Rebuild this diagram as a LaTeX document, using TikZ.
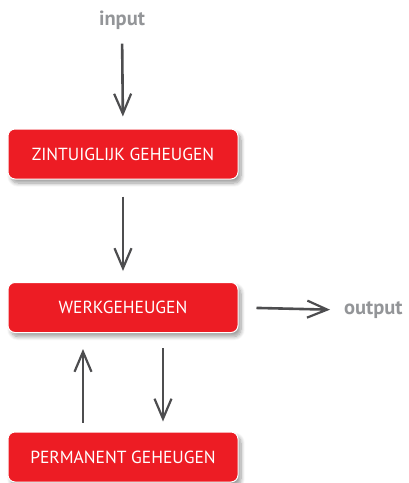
\documentclass[tikz,border=0pt]{standalone}
\usepackage{fontspec}
\setmainfont{PT Sans}
\usetikzlibrary{arrows.meta,shadows.blur}
\definecolor{geheugenrood}{HTML}{ED1C24}
\definecolor{pijlgrijs}{HTML}{4D4D4F}
\definecolor{tekstgrijs}{HTML}{939598}

\tikzset{
  geheugen/.style={draw=white, line width=1pt, fill=geheugenrood, rounded corners=7pt,
    minimum width=230pt, minimum height=50pt, text=white,
    font=\fontsize{17.5}{20}\selectfont,
    blur shadow={shadow xshift=3pt, shadow yshift=-4pt, shadow blur radius=4pt, shadow blur steps=8}},
  woord/.style={text=tekstgrijs, font=\fontsize{20.5}{22}\selectfont\bfseries, inner sep=0pt},
  pijl/.style={draw=pijlgrijs, line width=2.6pt,
    -{Straight Barb[length=20pt, width=17pt, line width=2.2pt]}}
}

\begin{document}
\begin{tikzpicture}[x=1pt, y=-1pt]
\useasboundingbox (0,0) rectangle (408,483);
% geheugens
\node[geheugen] (zintuig) at (123,154) {ZINTUIGLIJK GEHEUGEN};
\node[geheugen] (werk) at (123,307.5) {WERKGEHEUGEN};
\node[geheugen] (permanent) at (123,457) {PERMANENT GEHEUGEN};
% in en uit
\node[woord] (input) at (122,20) {input};
\node[woord, anchor=west] (output) at (344,310) {output};
% pijlen
\draw[pijl, shorten <=14pt, shorten >=12pt] (input.south) -- (zintuig.north);
\draw[pijl, shorten <=17pt, shorten >=11pt] (zintuig.south) -- (werk.north);
\draw[pijl, shorten <=18pt, shorten >=14pt] (werk.east) -- (output.west);
\draw[pijl, shorten <=9pt, shorten >=16pt] ([xshift=-40pt]permanent.north) -- ([xshift=-40pt]werk.south);
\draw[pijl, shorten <=15pt, shorten >=10pt] ([xshift=40pt]werk.south) -- ([xshift=40pt]permanent.north);
\end{tikzpicture}
\end{document}
